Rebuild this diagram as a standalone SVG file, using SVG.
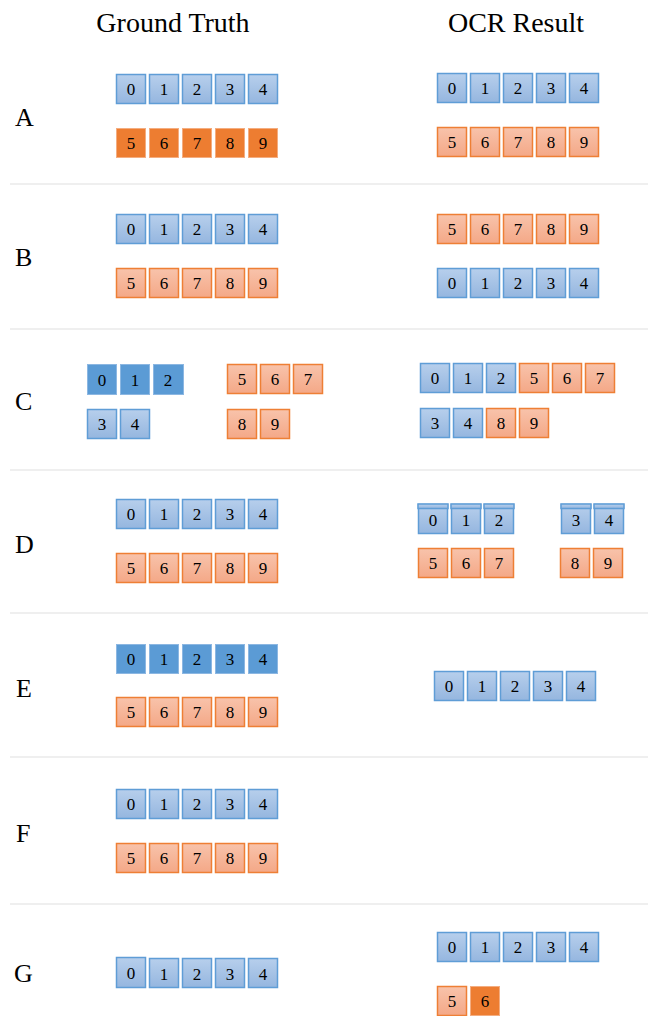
<svg xmlns="http://www.w3.org/2000/svg" width="651" height="1016" viewBox="0 0 651 1016">
<defs>
<linearGradient id="gb" x1="0" y1="0" x2="0" y2="1"><stop offset="0" stop-color="#b7cfec"/><stop offset="1" stop-color="#95b6df"/></linearGradient>
<linearGradient id="go" x1="0" y1="0" x2="0" y2="1"><stop offset="0" stop-color="#f8c3ab"/><stop offset="1" stop-color="#f4a887"/></linearGradient>
<style>
.lb rect{fill:url(#gb);stroke:#5f9dd6;stroke-width:1.5}
.lo rect{fill:url(#go);stroke:#ee7f35;stroke-width:1.5}
.db rect{fill:#5b9bd5;stroke:#8cb7e2;stroke-width:1}
.do rect{fill:#ed7d31;stroke:#f4ad80;stroke-width:1}
.strip{fill:#5b9bd5;stroke:none}
text{font-family:"Liberation Serif","Times New Roman",serif;fill:#000}
.d{font-size:17px;text-anchor:middle}
.t{font-size:28px;text-anchor:middle}
.r{font-size:26px}
.sep{stroke:#efefef;stroke-width:2}
</style>
</defs>
<g id="titles">
<text class="t" x="173" y="32">Ground Truth</text>
<text class="t" x="516" y="32">OCR Result</text>
</g>
<g id="rowlabels">
<text class="r" x="15" y="126">A</text>
<text class="r" x="15" y="266">B</text>
<text class="r" x="15" y="410">C</text>
<text class="r" x="15" y="553">D</text>
<text class="r" x="16" y="697">E</text>
<text class="r" x="16" y="842">F</text>
<text class="r" x="14" y="982">G</text>
</g>
<g id="separators">
<line class="sep" x1="10" y1="184" x2="648" y2="184"/>
<line class="sep" x1="10" y1="329" x2="648" y2="329"/>
<line class="sep" x1="10" y1="470" x2="648" y2="470"/>
<line class="sep" x1="10" y1="613" x2="648" y2="613"/>
<line class="sep" x1="10" y1="757" x2="648" y2="757"/>
<line class="sep" x1="10" y1="904" x2="648" y2="904"/>
</g>
<!-- Row A -->
<g id="A-gt-0" class="lb"><rect x="116.5" y="74.5" width="29" height="29"/><text class="d" x="131" y="95">0</text></g>
<g id="A-gt-1" class="lb"><rect x="149.5" y="74.5" width="29" height="29"/><text class="d" x="164" y="95">1</text></g>
<g id="A-gt-2" class="lb"><rect x="182.5" y="74.5" width="29" height="29"/><text class="d" x="197" y="95">2</text></g>
<g id="A-gt-3" class="lb"><rect x="215.5" y="74.5" width="29" height="29"/><text class="d" x="230" y="95">3</text></g>
<g id="A-gt-4" class="lb"><rect x="248.5" y="74.5" width="29" height="29"/><text class="d" x="263" y="95">4</text></g>
<g id="A-gt-5" class="do"><rect x="116.5" y="128.5" width="29" height="29"/><text class="d" x="131" y="149">5</text></g>
<g id="A-gt-6" class="do"><rect x="149.5" y="128.5" width="29" height="29"/><text class="d" x="164" y="149">6</text></g>
<g id="A-gt-7" class="do"><rect x="182.5" y="128.5" width="29" height="29"/><text class="d" x="197" y="149">7</text></g>
<g id="A-gt-8" class="do"><rect x="215.5" y="128.5" width="29" height="29"/><text class="d" x="230" y="149">8</text></g>
<g id="A-gt-9" class="do"><rect x="248.5" y="128.5" width="29" height="29"/><text class="d" x="263" y="149">9</text></g>
<g id="A-ocr-0" class="lb"><rect x="437.5" y="73.5" width="29" height="29"/><text class="d" x="452" y="94">0</text></g>
<g id="A-ocr-1" class="lb"><rect x="470.5" y="73.5" width="29" height="29"/><text class="d" x="485" y="94">1</text></g>
<g id="A-ocr-2" class="lb"><rect x="503.5" y="73.5" width="29" height="29"/><text class="d" x="518" y="94">2</text></g>
<g id="A-ocr-3" class="lb"><rect x="536.5" y="73.5" width="29" height="29"/><text class="d" x="551" y="94">3</text></g>
<g id="A-ocr-4" class="lb"><rect x="569.5" y="73.5" width="29" height="29"/><text class="d" x="584" y="94">4</text></g>
<g id="A-ocr-5" class="lo"><rect x="437.5" y="127.5" width="29" height="29"/><text class="d" x="452" y="148">5</text></g>
<g id="A-ocr-6" class="lo"><rect x="470.5" y="127.5" width="29" height="29"/><text class="d" x="485" y="148">6</text></g>
<g id="A-ocr-7" class="lo"><rect x="503.5" y="127.5" width="29" height="29"/><text class="d" x="518" y="148">7</text></g>
<g id="A-ocr-8" class="lo"><rect x="536.5" y="127.5" width="29" height="29"/><text class="d" x="551" y="148">8</text></g>
<g id="A-ocr-9" class="lo"><rect x="569.5" y="127.5" width="29" height="29"/><text class="d" x="584" y="148">9</text></g>
<!-- Row B -->
<g id="B-gt-0" class="lb"><rect x="116.5" y="214.5" width="29" height="29"/><text class="d" x="131" y="235">0</text></g>
<g id="B-gt-1" class="lb"><rect x="149.5" y="214.5" width="29" height="29"/><text class="d" x="164" y="235">1</text></g>
<g id="B-gt-2" class="lb"><rect x="182.5" y="214.5" width="29" height="29"/><text class="d" x="197" y="235">2</text></g>
<g id="B-gt-3" class="lb"><rect x="215.5" y="214.5" width="29" height="29"/><text class="d" x="230" y="235">3</text></g>
<g id="B-gt-4" class="lb"><rect x="248.5" y="214.5" width="29" height="29"/><text class="d" x="263" y="235">4</text></g>
<g id="B-gt-5" class="lo"><rect x="116.5" y="268.5" width="29" height="29"/><text class="d" x="131" y="289">5</text></g>
<g id="B-gt-6" class="lo"><rect x="149.5" y="268.5" width="29" height="29"/><text class="d" x="164" y="289">6</text></g>
<g id="B-gt-7" class="lo"><rect x="182.5" y="268.5" width="29" height="29"/><text class="d" x="197" y="289">7</text></g>
<g id="B-gt-8" class="lo"><rect x="215.5" y="268.5" width="29" height="29"/><text class="d" x="230" y="289">8</text></g>
<g id="B-gt-9" class="lo"><rect x="248.5" y="268.5" width="29" height="29"/><text class="d" x="263" y="289">9</text></g>
<g id="B-ocr-5" class="lo"><rect x="437.5" y="214.5" width="29" height="29"/><text class="d" x="452" y="235">5</text></g>
<g id="B-ocr-6" class="lo"><rect x="470.5" y="214.5" width="29" height="29"/><text class="d" x="485" y="235">6</text></g>
<g id="B-ocr-7" class="lo"><rect x="503.5" y="214.5" width="29" height="29"/><text class="d" x="518" y="235">7</text></g>
<g id="B-ocr-8" class="lo"><rect x="536.5" y="214.5" width="29" height="29"/><text class="d" x="551" y="235">8</text></g>
<g id="B-ocr-9" class="lo"><rect x="569.5" y="214.5" width="29" height="29"/><text class="d" x="584" y="235">9</text></g>
<g id="B-ocr-0" class="lb"><rect x="437.5" y="268.5" width="29" height="29"/><text class="d" x="452" y="289">0</text></g>
<g id="B-ocr-1" class="lb"><rect x="470.5" y="268.5" width="29" height="29"/><text class="d" x="485" y="289">1</text></g>
<g id="B-ocr-2" class="lb"><rect x="503.5" y="268.5" width="29" height="29"/><text class="d" x="518" y="289">2</text></g>
<g id="B-ocr-3" class="lb"><rect x="536.5" y="268.5" width="29" height="29"/><text class="d" x="551" y="289">3</text></g>
<g id="B-ocr-4" class="lb"><rect x="569.5" y="268.5" width="29" height="29"/><text class="d" x="584" y="289">4</text></g>
<!-- Row C -->
<g id="C-gt-0" class="db"><rect x="87.5" y="364.5" width="29" height="30"/><text class="d" x="102" y="386">0</text></g>
<g id="C-gt-1" class="db"><rect x="120.5" y="364.5" width="29" height="30"/><text class="d" x="135" y="386">1</text></g>
<g id="C-gt-2" class="db"><rect x="153.5" y="364.5" width="30" height="30"/><text class="d" x="168" y="386">2</text></g>
<g id="C-gt-3" class="lb"><rect x="87.5" y="409.5" width="29" height="29"/><text class="d" x="102" y="430">3</text></g>
<g id="C-gt-4" class="lb"><rect x="120.5" y="409.5" width="29" height="29"/><text class="d" x="135" y="430">4</text></g>
<g id="C-gt-5" class="lo"><rect x="227.5" y="364.5" width="29" height="29"/><text class="d" x="242" y="385">5</text></g>
<g id="C-gt-6" class="lo"><rect x="260.5" y="364.5" width="29" height="29"/><text class="d" x="275" y="385">6</text></g>
<g id="C-gt-7" class="lo"><rect x="293.5" y="364.5" width="29" height="29"/><text class="d" x="308" y="385">7</text></g>
<g id="C-gt-8" class="lo"><rect x="227.5" y="409.5" width="29" height="29"/><text class="d" x="242" y="430">8</text></g>
<g id="C-gt-9" class="lo"><rect x="260.5" y="409.5" width="29" height="29"/><text class="d" x="275" y="430">9</text></g>
<g id="C-ocr-0" class="lb"><rect x="420.5" y="363.5" width="29" height="29"/><text class="d" x="435" y="384">0</text></g>
<g id="C-ocr-1" class="lb"><rect x="453.5" y="363.5" width="29" height="29"/><text class="d" x="468" y="384">1</text></g>
<g id="C-ocr-2" class="lb"><rect x="486.5" y="363.5" width="29" height="29"/><text class="d" x="501" y="384">2</text></g>
<g id="C-ocr-5" class="lo"><rect x="519.5" y="363.5" width="29" height="29"/><text class="d" x="534" y="384">5</text></g>
<g id="C-ocr-6" class="lo"><rect x="552.5" y="363.5" width="29" height="29"/><text class="d" x="567" y="384">6</text></g>
<g id="C-ocr-7" class="lo"><rect x="585.5" y="363.5" width="29" height="29"/><text class="d" x="600" y="384">7</text></g>
<g id="C-ocr-3" class="lb"><rect x="420.5" y="408.5" width="29" height="29"/><text class="d" x="435" y="429">3</text></g>
<g id="C-ocr-4" class="lb"><rect x="453.5" y="408.5" width="29" height="29"/><text class="d" x="468" y="429">4</text></g>
<g id="C-ocr-8" class="lo"><rect x="486.5" y="408.5" width="29" height="29"/><text class="d" x="501" y="429">8</text></g>
<g id="C-ocr-9" class="lo"><rect x="519.5" y="408.5" width="29" height="29"/><text class="d" x="534" y="429">9</text></g>
<!-- Row D -->
<g id="D-gt-0" class="lb"><rect x="116.5" y="499.5" width="29" height="29"/><text class="d" x="131" y="520">0</text></g>
<g id="D-gt-1" class="lb"><rect x="149.5" y="499.5" width="29" height="29"/><text class="d" x="164" y="520">1</text></g>
<g id="D-gt-2" class="lb"><rect x="182.5" y="499.5" width="29" height="29"/><text class="d" x="197" y="520">2</text></g>
<g id="D-gt-3" class="lb"><rect x="215.5" y="499.5" width="29" height="29"/><text class="d" x="230" y="520">3</text></g>
<g id="D-gt-4" class="lb"><rect x="248.5" y="499.5" width="29" height="29"/><text class="d" x="263" y="520">4</text></g>
<g id="D-gt-5" class="lo"><rect x="116.5" y="553.5" width="29" height="29"/><text class="d" x="131" y="574">5</text></g>
<g id="D-gt-6" class="lo"><rect x="149.5" y="553.5" width="29" height="29"/><text class="d" x="164" y="574">6</text></g>
<g id="D-gt-7" class="lo"><rect x="182.5" y="553.5" width="29" height="29"/><text class="d" x="197" y="574">7</text></g>
<g id="D-gt-8" class="lo"><rect x="215.5" y="553.5" width="29" height="29"/><text class="d" x="230" y="574">8</text></g>
<g id="D-gt-9" class="lo"><rect x="248.5" y="553.5" width="29" height="29"/><text class="d" x="263" y="574">9</text></g>
<g id="D-ocr-0" class="lb"><rect x="418.5" y="504.5" width="29" height="29"/><rect class="strip" x="418" y="504" width="30" height="4.5"/><text class="d" x="433" y="526">0</text></g>
<g id="D-ocr-1" class="lb"><rect x="451.5" y="504.5" width="29" height="29"/><rect class="strip" x="451" y="504" width="30" height="4.5"/><text class="d" x="466" y="526">1</text></g>
<g id="D-ocr-2" class="lb"><rect x="484.5" y="504.5" width="29" height="29"/><rect class="strip" x="484" y="504" width="30" height="4.5"/><text class="d" x="499" y="526">2</text></g>
<g id="D-ocr-3" class="lb"><rect x="561.5" y="504.5" width="29" height="29"/><rect class="strip" x="561" y="504" width="30" height="4.5"/><text class="d" x="576" y="526">3</text></g>
<g id="D-ocr-4" class="lb"><rect x="594.5" y="504.5" width="29" height="29"/><rect class="strip" x="594" y="504" width="30" height="4.5"/><text class="d" x="609" y="526">4</text></g>
<g id="D-ocr-5" class="lo"><rect x="418.5" y="548.5" width="29" height="29"/><text class="d" x="433" y="569">5</text></g>
<g id="D-ocr-6" class="lo"><rect x="451.5" y="548.5" width="29" height="29"/><text class="d" x="466" y="569">6</text></g>
<g id="D-ocr-7" class="lo"><rect x="484.5" y="548.5" width="29" height="29"/><text class="d" x="499" y="569">7</text></g>
<g id="D-ocr-8" class="lo"><rect x="560.5" y="548.5" width="29" height="29"/><text class="d" x="575" y="569">8</text></g>
<g id="D-ocr-9" class="lo"><rect x="593.5" y="548.5" width="29" height="29"/><text class="d" x="608" y="569">9</text></g>
<!-- Row E -->
<g id="E-gt-0" class="db"><rect x="116.5" y="644.5" width="29" height="29"/><text class="d" x="131" y="665">0</text></g>
<g id="E-gt-1" class="db"><rect x="149.5" y="644.5" width="29" height="29"/><text class="d" x="164" y="665">1</text></g>
<g id="E-gt-2" class="db"><rect x="182.5" y="644.5" width="29" height="29"/><text class="d" x="197" y="665">2</text></g>
<g id="E-gt-3" class="db"><rect x="215.5" y="644.5" width="29" height="29"/><text class="d" x="230" y="665">3</text></g>
<g id="E-gt-4" class="db"><rect x="248.5" y="644.5" width="29" height="29"/><text class="d" x="263" y="665">4</text></g>
<g id="E-gt-5" class="lo"><rect x="116.5" y="697.5" width="29" height="29"/><text class="d" x="131" y="718">5</text></g>
<g id="E-gt-6" class="lo"><rect x="149.5" y="697.5" width="29" height="29"/><text class="d" x="164" y="718">6</text></g>
<g id="E-gt-7" class="lo"><rect x="182.5" y="697.5" width="29" height="29"/><text class="d" x="197" y="718">7</text></g>
<g id="E-gt-8" class="lo"><rect x="215.5" y="697.5" width="29" height="29"/><text class="d" x="230" y="718">8</text></g>
<g id="E-gt-9" class="lo"><rect x="248.5" y="697.5" width="29" height="29"/><text class="d" x="263" y="718">9</text></g>
<g id="E-ocr-0" class="lb"><rect x="434.5" y="671.5" width="29" height="29"/><text class="d" x="449" y="692">0</text></g>
<g id="E-ocr-1" class="lb"><rect x="467.5" y="671.5" width="29" height="29"/><text class="d" x="482" y="692">1</text></g>
<g id="E-ocr-2" class="lb"><rect x="500.5" y="671.5" width="29" height="29"/><text class="d" x="515" y="692">2</text></g>
<g id="E-ocr-3" class="lb"><rect x="533.5" y="671.5" width="29" height="29"/><text class="d" x="548" y="692">3</text></g>
<g id="E-ocr-4" class="lb"><rect x="566.5" y="671.5" width="29" height="29"/><text class="d" x="581" y="692">4</text></g>
<!-- Row F -->
<g id="F-gt-0" class="lb"><rect x="116.5" y="789.5" width="29" height="29"/><text class="d" x="131" y="810">0</text></g>
<g id="F-gt-1" class="lb"><rect x="149.5" y="789.5" width="29" height="29"/><text class="d" x="164" y="810">1</text></g>
<g id="F-gt-2" class="lb"><rect x="182.5" y="789.5" width="29" height="29"/><text class="d" x="197" y="810">2</text></g>
<g id="F-gt-3" class="lb"><rect x="215.5" y="789.5" width="29" height="29"/><text class="d" x="230" y="810">3</text></g>
<g id="F-gt-4" class="lb"><rect x="248.5" y="789.5" width="29" height="29"/><text class="d" x="263" y="810">4</text></g>
<g id="F-gt-5" class="lo"><rect x="116.5" y="843.5" width="29" height="29"/><text class="d" x="131" y="864">5</text></g>
<g id="F-gt-6" class="lo"><rect x="149.5" y="843.5" width="29" height="29"/><text class="d" x="164" y="864">6</text></g>
<g id="F-gt-7" class="lo"><rect x="182.5" y="843.5" width="29" height="29"/><text class="d" x="197" y="864">7</text></g>
<g id="F-gt-8" class="lo"><rect x="215.5" y="843.5" width="29" height="29"/><text class="d" x="230" y="864">8</text></g>
<g id="F-gt-9" class="lo"><rect x="248.5" y="843.5" width="29" height="29"/><text class="d" x="263" y="864">9</text></g>
<!-- Row G -->
<g id="G-gt-0" class="lb"><rect x="116.5" y="957.5" width="29" height="30"/><text class="d" x="131" y="979">0</text></g>
<g id="G-gt-1" class="lb"><rect x="149.5" y="958.5" width="29" height="29"/><text class="d" x="164" y="980">1</text></g>
<g id="G-gt-2" class="lb"><rect x="182.5" y="958.5" width="29" height="29"/><text class="d" x="197" y="980">2</text></g>
<g id="G-gt-3" class="lb"><rect x="215.5" y="958.5" width="29" height="29"/><text class="d" x="230" y="980">3</text></g>
<g id="G-gt-4" class="lb"><rect x="248.5" y="958.5" width="29" height="29"/><text class="d" x="263" y="980">4</text></g>
<g id="G-ocr-0" class="lb"><rect x="437.5" y="932.5" width="29" height="29"/><text class="d" x="452" y="953">0</text></g>
<g id="G-ocr-1" class="lb"><rect x="470.5" y="932.5" width="29" height="29"/><text class="d" x="485" y="953">1</text></g>
<g id="G-ocr-2" class="lb"><rect x="503.5" y="932.5" width="29" height="29"/><text class="d" x="518" y="953">2</text></g>
<g id="G-ocr-3" class="lb"><rect x="536.5" y="932.5" width="29" height="29"/><text class="d" x="551" y="953">3</text></g>
<g id="G-ocr-4" class="lb"><rect x="569.5" y="932.5" width="29" height="29"/><text class="d" x="584" y="953">4</text></g>
<g id="G-ocr-5" class="lo"><rect x="437.5" y="986.5" width="29" height="29"/><text class="d" x="452" y="1007">5</text></g>
<g id="G-ocr-6" class="do"><rect x="470.5" y="986.5" width="29" height="29"/><text class="d" x="485" y="1007">6</text></g>
</svg>
